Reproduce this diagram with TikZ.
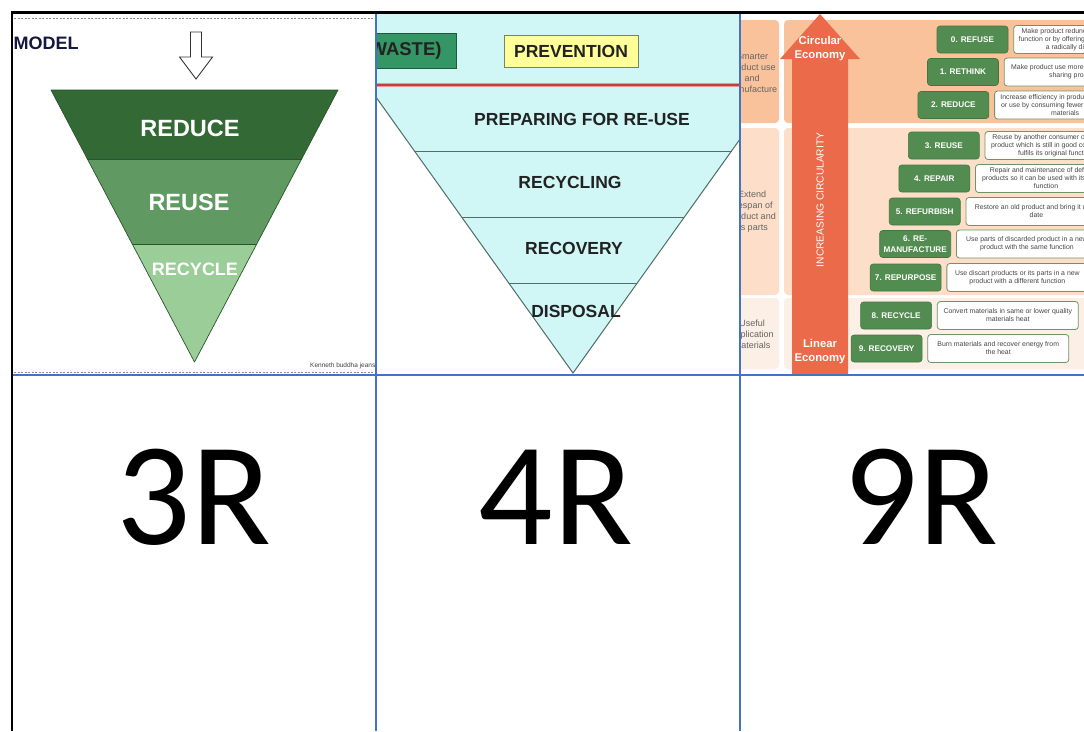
\documentclass[tikz,border=0pt]{standalone}
\usepackage{fontspec}
\setmainfont{Liberation Sans}
\newfontfamily\bigfont{Carlito}

% colours
\definecolor{gDark}{RGB}{50,105,52}
\definecolor{gMid}{RGB}{96,154,98}
\definecolor{gLight}{RGB}{155,205,152}
\definecolor{gEdge}{RGB}{40,85,42}
\definecolor{navy}{RGB}{20,24,64}
\definecolor{cyanbg}{RGB}{208,246,246}
\definecolor{triline}{RGB}{80,110,100}
\definecolor{labgray}{RGB}{34,34,34}
\definecolor{redline}{RGB}{196,64,64}
\definecolor{pinkline}{RGB}{236,150,150}
\definecolor{seagreen}{RGB}{52,150,100}
\definecolor{seaedge}{RGB}{30,90,60}
\definecolor{lemon}{RGB}{255,255,153}
\definecolor{lemonedge}{RGB}{120,130,100}
\definecolor{regA}{RGB}{250,194,155}
\definecolor{regB}{RGB}{252,222,201}
\definecolor{regC}{RGB}{252,239,230}
\definecolor{arrowred}{RGB}{234,106,74}
\definecolor{rgreen}{RGB}{82,140,80}
\definecolor{rgreenedge}{RGB}{66,118,64}
\definecolor{dedge}{RGB}{112,148,102}
\definecolor{dtext}{RGB}{70,70,70}
\definecolor{coltext}{RGB}{100,100,100}
\definecolor{gridblue}{RGB}{68,114,196}

\tikzset{
  bandtext/.style={text=white, inner sep=0},
  wastelabel/.style={text=labgray, inner sep=0, font=\bfseries\fontsize{17.5}{20}\selectfont},
  rbox/.style={fill=rgreen, draw=rgreenedge, line width=0.6, rounded corners=3,
    minimum width=71, minimum height=27, inner sep=0, align=center, text=white,
    font=\bfseries\fontsize{8.2}{11}\selectfont},
  dbox/.style={fill=white, draw=dedge, line width=0.8, rounded corners=3,
    minimum width=141, minimum height=28, inner xsep=5, inner ysep=0, align=center,
    text=dtext, font=\fontsize{6.9}{8}\selectfont},
  coltxt/.style={text=coltext, align=center, inner sep=0, font=\fontsize{9}{11}\selectfont},
  arrowtxt/.style={text=white, align=center, inner sep=0, font=\bfseries\fontsize{11.3}{14}\selectfont},
  biglabel/.style={anchor=base, inner sep=0, font=\bigfont\fontsize{147}{150}\selectfont}
}

\begin{document}
\begin{tikzpicture}[x=1pt,y=-1pt]
\useasboundingbox (0,0) rectangle (1084,731);
\fill[white] (0,0) rectangle (1084,731);

% ---------- 3R panel ----------
\begin{scope}
\clip (12,12) rectangle (376,375);
\draw[black!45, line width=0.8, dash pattern=on 2pt off 1.5pt] (14,18) -- (376,18);
\draw[black!45, line width=0.8, dash pattern=on 2pt off 1.5pt] (14,372.5) -- (376,372.5);
\node (model) [anchor=west, inner sep=0, text=navy, font=\bfseries\fontsize{18}{20}\selectfont] at (13.5,43) {MODEL};
\draw[line width=0.9, draw=black!80, fill=white, line join=miter]
  (190.5,32) -- (201.5,32) -- (201.5,57) -- (212.5,57) -- (196,79) -- (179.5,57) -- (190.5,57) -- cycle;
\fill[gDark] (51,90) -- (338,90) -- (301.6,159) -- (87.4,159) -- cycle;
\fill[gMid] (87.4,159) -- (301.6,159) -- (256.75,244) -- (132.25,244) -- cycle;
\fill[gLight] (132.25,244) -- (256.75,244) -- (194.5,362) -- cycle;
\draw[gEdge, line width=0.7, line join=round] (51,90) -- (338,90) -- (194.5,362) -- cycle;
\draw[gEdge, line width=0.6] (87.4,159) -- (301.6,159) (132.25,244) -- (256.75,244);
\node (reduce) [bandtext, font=\bfseries\fontsize{23.5}{26}\selectfont] at (190,128) {REDUCE};
\node (reuse) [bandtext, font=\bfseries\fontsize{23.5}{26}\selectfont] at (189,202) {REUSE};
\node (recycle) [bandtext, font=\bfseries\fontsize{18}{20}\selectfont] at (195,269) {RECYCLE};
\node (credit) [anchor=east, inner sep=0, text=black!75, font=\fontsize{6.5}{7}\selectfont] at (375.5,366) {Kenneth buddha jeans};
\end{scope}

% ---------- 4R panel ----------
\begin{scope}
\clip (376,12) rectangle (740,375);
\fill[cyanbg] (376,12) rectangle (740,84.5);
\fill[cyanbg] (367,84.5) -- (779,84.5) -- (573,373) -- cycle;
\draw[triline, line width=1] (367,84.5) -- (573,373) -- (779,84.5);
\draw[triline, line width=1] (414.5,151) -- (731.5,151) (462,217) -- (684,217) (509,283) -- (637,283);
\draw[pinkline, line width=4] (376,84.5) -- (740,84.5);
\draw[redline, line width=2] (376,84.5) -- (740,84.5);
\node (waste) [fill=seagreen, draw=seaedge, line width=1, anchor=east, inner xsep=15, minimum height=35,
  text=labgray, font=\bfseries\fontsize{18.5}{20}\selectfont] at (457,50.5) {(WASTE)};
\node (prevention) [fill=lemon, draw=lemonedge, line width=1, minimum width=134, minimum height=32,
  inner sep=0, text=labgray, font=\bfseries\fontsize{17.5}{20}\selectfont] at (571,51) {PREVENTION};
\node (prepare) [wastelabel] at (582,119) {PREPARING FOR RE-USE};
\node (recycling) [wastelabel] at (570,182) {RECYCLING};
\node (recovery) [wastelabel] at (574,248) {RECOVERY};
\node (disposal) [wastelabel] at (576,311) {DISPOSAL};
\end{scope}

% ---------- 9R panel ----------
\begin{scope}
\clip (740,12) rectangle (1084,375);
\fill[regA, rounded corners=4] (722,20) rectangle (779,123);
\fill[regB, rounded corners=4] (722,128) rectangle (779,295);
\fill[regC, rounded corners=4] (722,298) rectangle (779,369);
\fill[regA, rounded corners=4] (784,20) rectangle (1100,123);
\fill[regB, rounded corners=4] (784,128) rectangle (1100,295);
\fill[regC, rounded corners=4] (784,298) rectangle (1100,369);
\node (smarter) [coltxt] at (752,72.5) {Smarter\\product use\\and\\manufacture};
\node (extend) [coltxt] at (752,211.5) {Extend\\lifespan of\\product and\\its parts};
\node (useful) [coltxt] at (752,334) {Useful\\application\\materials};
\fill[arrowred] (792,380) -- (792,59) -- (780,59) -- (820,14) -- (860,59) -- (848,59) -- (848,380) -- cycle;
\node (circular) [arrowtxt] at (820,49) {Circular\\Economy};
\node (linear) [arrowtxt] at (820,352) {Linear\\Economy};
\node (increasing) [rotate=90, inner sep=0, text=white, font=\fontsize{10.2}{12}\selectfont] at (820,200) {INCREASING CIRCULARITY};
\foreach \i/\yy/\lab/\desc in {
  0/39.5/{0. REFUSE}/{Make product redundant by abandoning its\\function or by offering the same function with\\a radically different product},
  1/72/{1. RETHINK}/{Make product use more intensive through\\sharing products},
  2/105/{2. REDUCE}/{Increase efficiency in product manufacture\\or use by consuming fewer resources and\\materials},
  3/145.5/{3. REUSE}/{Reuse by another consumer of discarded\\product which is still in good condition and\\fulfils its original function},
  4/178.5/{4. REPAIR}/{Repair and maintenance of defective\\products so it can be used with its original\\function},
  5/211.5/{5. REFURBISH}/{Restore an old product and bring it up to\\date},
  6/244/{6. RE-\\MANUFACTURE}/{Use parts of discarded product in a new\\product with the same function},
  7/277.5/{7. REPURPOSE}/{Use discart products or its parts in a new\\product with a different function},
  8/315.5/{8. RECYCLE}/{Convert materials in same or lower quality\\materials heat},
  9/348.5/{9. RECOVERY}/{Burn materials and recover energy from\\the heat}}
{
  \pgfmathsetmacro{\xx}{972.5-9.55*\i}
  \node (rr\i) [rbox] at (\xx,\yy) {\lab};
  \node (rd\i) [dbox, anchor=west, xshift=5pt] at (rr\i.east) {\desc};
}
\end{scope}

% ---------- table grid ----------
\draw[gridblue, line width=2] (376,12) -- (376,731) (740,12) -- (740,731) (12,375) -- (1084,375);
\draw[black, line width=3] (10.5,12) -- (1084,12);
\draw[black, line width=2.2] (12,12) -- (12,731);

% ---------- bottom labels ----------
\node (three) [biglabel] at (194,544) {3R};
\node (four) [biglabel] at (556,544) {4R};
\node (nine) [biglabel] at (921,544) {9R};
\end{tikzpicture}
\end{document}
